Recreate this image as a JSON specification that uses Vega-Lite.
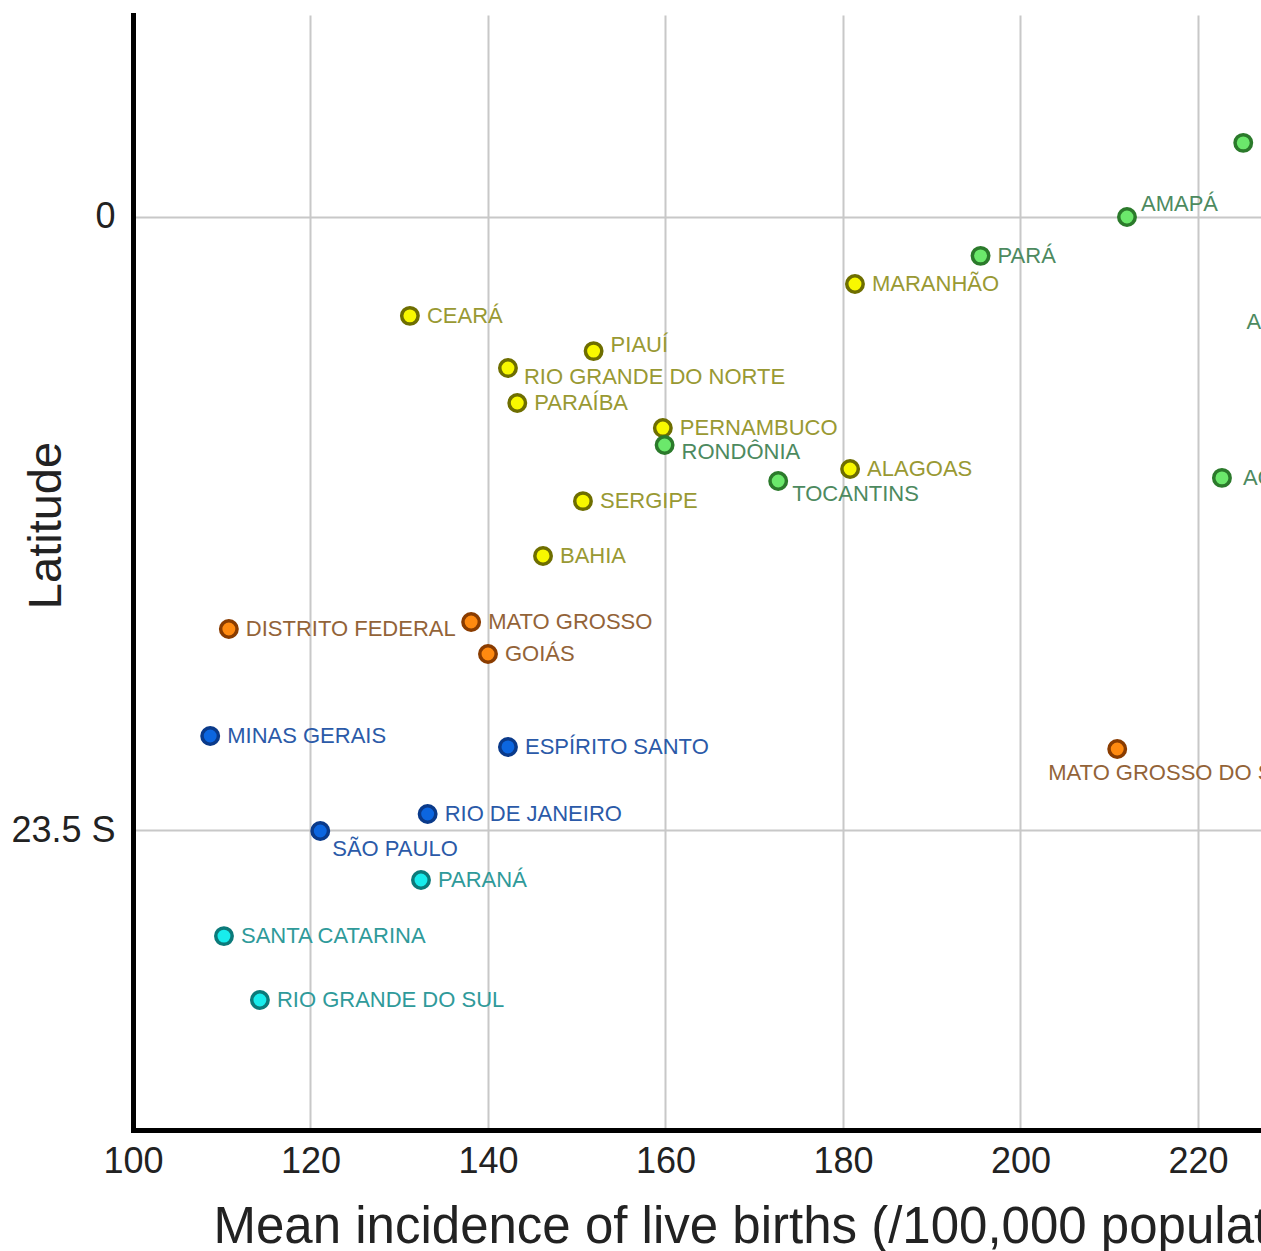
{
  "$schema": "https://vega.github.io/schema/vega-lite/v6.json",
  "width": 1128,
  "height": 1115,
  "autosize": {"type": "none"},
  "padding": {"left": 133, "top": 15, "right": 0, "bottom": 121},
  "background": "white",
  "config": {"view": {"stroke": null}, "font": "Liberation Sans"},
  "data": {
    "values": [
      {"state": "RORAIMA", "region": "North", "incidence": 225.1, "latitude": 2.84},
      {"state": "AMAPÁ", "region": "North", "incidence": 212.0, "latitude": 0.0},
      {"state": "PARÁ", "region": "North", "incidence": 195.5, "latitude": -1.49},
      {"state": "MARANHÃO", "region": "Northeast", "incidence": 181.35, "latitude": -2.57},
      {"state": "AMAZONAS", "region": "North", "incidence": 241.3, "latitude": -4.02},
      {"state": "CEARÁ", "region": "Northeast", "incidence": 131.2, "latitude": -3.79},
      {"state": "PIAUÍ", "region": "Northeast", "incidence": 151.9, "latitude": -5.14},
      {"state": "RIO GRANDE DO NORTE", "region": "Northeast", "incidence": 142.25, "latitude": -5.79},
      {"state": "PARAÍBA", "region": "Northeast", "incidence": 143.3, "latitude": -7.13},
      {"state": "PERNAMBUCO", "region": "Northeast", "incidence": 159.7, "latitude": -8.09},
      {"state": "RONDÔNIA", "region": "North", "incidence": 159.9, "latitude": -8.74},
      {"state": "ALAGOAS", "region": "Northeast", "incidence": 180.8, "latitude": -9.66},
      {"state": "TOCANTINS", "region": "North", "incidence": 172.7, "latitude": -10.12},
      {"state": "ACRE", "region": "North", "incidence": 222.7, "latitude": -10.0},
      {"state": "SERGIPE", "region": "Northeast", "incidence": 150.7, "latitude": -10.89},
      {"state": "BAHIA", "region": "Northeast", "incidence": 146.2, "latitude": -12.99},
      {"state": "DISTRITO FEDERAL", "region": "Center-West", "incidence": 110.8, "latitude": -15.79},
      {"state": "MATO GROSSO", "region": "Center-West", "incidence": 138.1, "latitude": -15.52},
      {"state": "GOIÁS", "region": "Center-West", "incidence": 140.0, "latitude": -16.75},
      {"state": "MATO GROSSO DO SUL", "region": "Center-West", "incidence": 210.9, "latitude": -20.39},
      {"state": "MINAS GERAIS", "region": "Southeast", "incidence": 108.7, "latitude": -19.89},
      {"state": "ESPÍRITO SANTO", "region": "Southeast", "incidence": 142.25, "latitude": -20.31},
      {"state": "RIO DE JANEIRO", "region": "Southeast", "incidence": 133.2, "latitude": -22.88},
      {"state": "SÃO PAULO", "region": "Southeast", "incidence": 121.1, "latitude": -23.53},
      {"state": "PARANÁ", "region": "South", "incidence": 132.45, "latitude": -25.41},
      {"state": "SANTA CATARINA", "region": "South", "incidence": 110.25, "latitude": -27.56},
      {"state": "RIO GRANDE DO SUL", "region": "South", "incidence": 114.3, "latitude": -30.01}
    ]
  },
  "encoding": {
    "x": {
      "field": "incidence", "type": "quantitative",
      "scale": {"domain": [100, 227.1], "nice": false, "zero": false},
      "axis": {
        "values": [100, 120, 140, 160, 180, 200, 220],
        "grid": true, "gridColor": "#c8c8c8", "gridWidth": 2,
        "domain": true, "domainColor": "#000000", "domainWidth": 5, "domainCap": "square",
        "ticks": false, "tickSize": 0, "labelFlush": false,
        "labelFontSize": 36, "labelColor": "#222222", "labelPadding": 14, "labelFont": "Liberation Sans",
        "title": "Mean incidence of live births (/100,000 population)",
        "titleFontSize": 51, "titleFontWeight": "normal", "titleColor": "#222222", "titleFont": "Liberation Sans",
        "titleAlign": "left", "titleAnchor": "start", "titleX": 80, "titleY": 112, "titleBaseline": "alphabetic"
      }
    },
    "y": {
      "field": "latitude", "type": "quantitative",
      "scale": {"domain": [-34.99, 7.74], "nice": false, "zero": false},
      "axis": {
        "values": [0, -23.5],
        "labelExpr": "datum.value == 0 ? '0' : '23.5 S'",
        "grid": true, "gridColor": "#c8c8c8", "gridWidth": 2,
        "domain": true, "domainColor": "#000000", "domainWidth": 5, "domainCap": "square",
        "ticks": false, "tickSize": 0, "labelFlush": false,
        "labelFontSize": 36, "labelColor": "#222222", "labelPadding": 18, "labelFont": "Liberation Sans",
        "title": "Latitude",
        "titleFontSize": 47, "titleFontWeight": "normal", "titleColor": "#222222", "titleFont": "Liberation Sans",
        "titleAngle": -90, "titleAlign": "center", "titleBaseline": "alphabetic", "titleX": -73, "titleY": 510
      }
    }
  },
  "layer": [
    {
      "transform": [{"filter": "indexof(['AMAPÁ','RIO GRANDE DO NORTE','RONDÔNIA','TOCANTINS','SÃO PAULO','PIAUÍ','MATO GROSSO DO SUL','AMAZONAS','ACRE'], datum.state) < 0"}],
      "mark": {"type": "text", "align": "left", "baseline": "middle", "dx": 17, "fontSize": 22, "font": "Liberation Sans", "clip": true},
      "encoding": {
        "text": {"field": "state"},
        "color": {"field": "region", "type": "nominal", "legend": null,
          "scale": {"domain": ["North", "Northeast", "Center-West", "Southeast", "South"],
                    "range": ["#4d8a5f", "#999933", "#936338", "#2b5aa8", "#2f9a9a"]}}
      }
    },
    {
      "transform": [{"filter": "datum.state == 'ACRE'"}],
      "mark": {"type": "text", "align": "left", "baseline": "middle", "dx": 21, "fontSize": 22, "font": "Liberation Sans", "clip": true},
      "encoding": {"text": {"field": "state"}, "color": {"field": "region", "type": "nominal", "legend": null}}
    },
    {
      "transform": [{"filter": "datum.state == 'AMAPÁ'"}],
      "mark": {"type": "text", "align": "left", "baseline": "middle", "dx": 14, "dy": -13, "fontSize": 22, "font": "Liberation Sans", "clip": true},
      "encoding": {"text": {"field": "state"}, "color": {"field": "region", "type": "nominal", "legend": null}}
    },
    {
      "transform": [{"filter": "datum.state == 'RIO GRANDE DO NORTE'"}],
      "mark": {"type": "text", "align": "left", "baseline": "middle", "dx": 16, "dy": 9, "fontSize": 22, "font": "Liberation Sans", "clip": true},
      "encoding": {"text": {"field": "state"}, "color": {"field": "region", "type": "nominal", "legend": null}}
    },
    {
      "transform": [{"filter": "datum.state == 'RONDÔNIA'"}],
      "mark": {"type": "text", "align": "left", "baseline": "middle", "dx": 17, "dy": 7, "fontSize": 22, "font": "Liberation Sans", "clip": true},
      "encoding": {"text": {"field": "state"}, "color": {"field": "region", "type": "nominal", "legend": null}}
    },
    {
      "transform": [{"filter": "datum.state == 'TOCANTINS'"}],
      "mark": {"type": "text", "align": "left", "baseline": "middle", "dx": 14, "dy": 13, "fontSize": 22, "font": "Liberation Sans", "clip": true},
      "encoding": {"text": {"field": "state"}, "color": {"field": "region", "type": "nominal", "legend": null}}
    },
    {
      "transform": [{"filter": "datum.state == 'SÃO PAULO'"}],
      "mark": {"type": "text", "align": "left", "baseline": "middle", "dx": 12, "dy": 18, "fontSize": 22, "font": "Liberation Sans", "clip": true},
      "encoding": {"text": {"field": "state"}, "color": {"field": "region", "type": "nominal", "legend": null}}
    },
    {
      "transform": [{"filter": "datum.state == 'PIAUÍ'"}],
      "mark": {"type": "text", "align": "left", "baseline": "middle", "dx": 17, "dy": -6, "fontSize": 22, "font": "Liberation Sans", "clip": true},
      "encoding": {"text": {"field": "state"}, "color": {"field": "region", "type": "nominal", "legend": null}}
    },
    {
      "transform": [{"filter": "datum.state == 'MATO GROSSO DO SUL'"}],
      "mark": {"type": "text", "align": "left", "baseline": "middle", "dx": -69, "dy": 24, "fontSize": 22, "font": "Liberation Sans", "clip": true},
      "encoding": {"text": {"field": "state"}, "color": {"field": "region", "type": "nominal", "legend": null}}
    },
    {
      "transform": [{"filter": "datum.state == 'AMAZONAS'"}],
      "mark": {"type": "text", "align": "right", "baseline": "middle", "dx": -17, "fontSize": 22, "font": "Liberation Sans", "clip": true},
      "encoding": {"text": {"field": "state"}, "color": {"field": "region", "type": "nominal", "legend": null}}
    },
    {
      "mark": {"type": "circle", "size": 270, "strokeWidth": 3.5, "opacity": 1, "clip": true},
      "encoding": {
        "fill": {"field": "region", "type": "nominal", "legend": null,
          "scale": {"domain": ["North", "Northeast", "Center-West", "Southeast", "South"],
                    "range": ["#6be86b", "#f8f800", "#ff8a10", "#0c66e0", "#18ecec"]}},
        "stroke": {"field": "region", "type": "nominal", "legend": null,
          "scale": {"domain": ["North", "Northeast", "Center-West", "Southeast", "South"],
                    "range": ["#2b7a2b", "#6e6e00", "#8a3c00", "#0a3a8a", "#0b7a7a"]}}
      }
    }
  ]
}
